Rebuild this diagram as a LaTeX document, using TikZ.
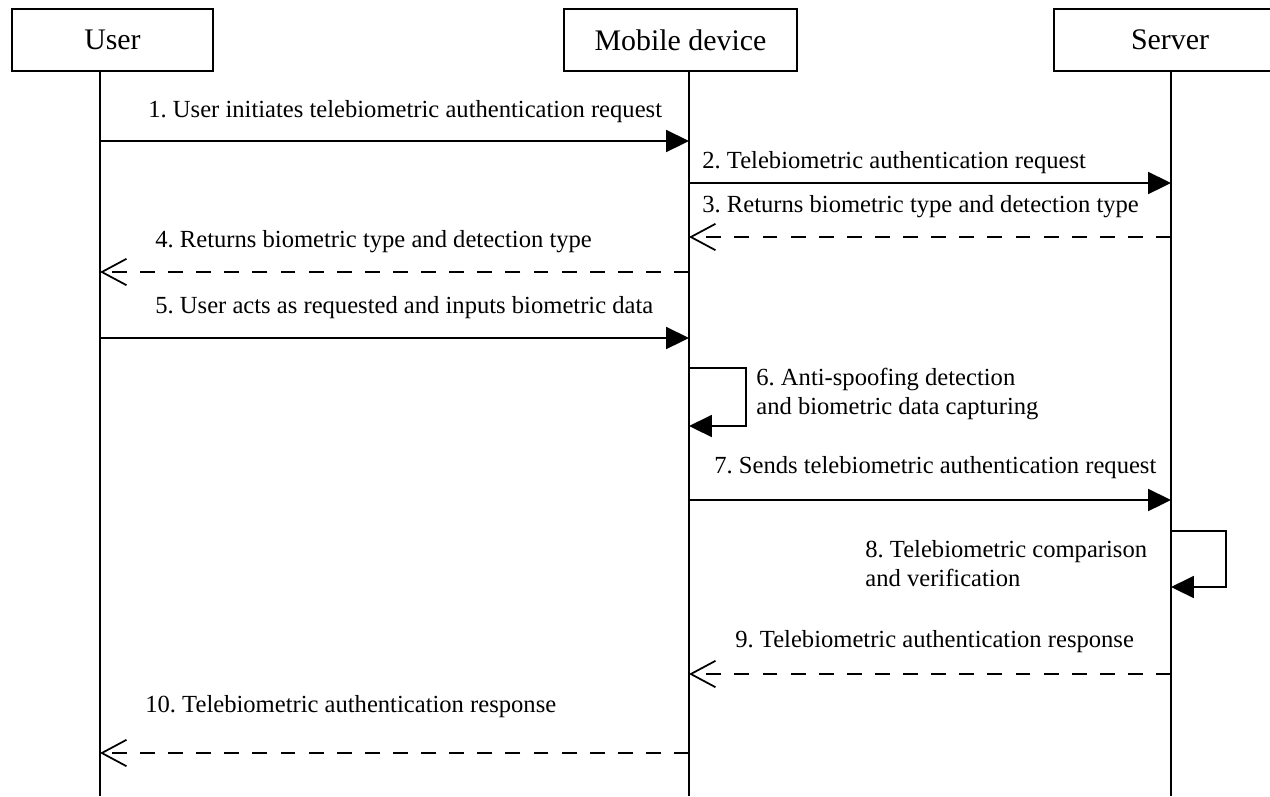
\documentclass[tikz,border=0pt]{standalone}
\usepackage{fontspec}
\setmainfont{Liberation Serif}
\usetikzlibrary{calc}
\usetikzlibrary{arrows.meta}
\frenchspacing

\begin{document}
\begin{tikzpicture}[x=0.02cm, y=-0.02cm,
  actor/.style={draw, line width=1pt, minimum height=1.24cm, inner sep=0pt, font=\fontsize{17}{20}\selectfont},
  life/.style={line width=1pt},
  msg/.style={line width=1pt, -{Triangle[length=13pt, width=12.5pt]}},
  reply/.style={line width=1pt, dash pattern=on 8.5pt off 7.5pt, -{Straight Barb[length=14pt, width=15pt, line width=1pt]}},
  lbl/.style={anchor=base west, inner sep=0pt, font=\fontsize{14}{16.5}\selectfont},
  lbl2/.style={anchor=north west, inner sep=0pt, align=left, font=\fontsize{14}{16.5}\selectfont}]
\useasboundingbox (0,0) rectangle (1270,796);

\node[actor, minimum width=4.02cm] (User) at (112.5,40) {User};
\node[actor, minimum width=4.66cm] (Mobile) at (680.5,40) {Mobile device};
\node[actor, minimum width=4.64cm] (Server) at (1170,40) {Server};

\coordinate (U0) at (100,71);
\coordinate (M0) at (689,71);
\coordinate (S0) at (1171,71);
\draw[life] (U0) -- (U0 |- 0,796);
\draw[life] (M0) -- (M0 |- 0,796);
\draw[life] (S0) -- (S0 |- 0,796);

\coordinate (U1) at (100,141);
\coordinate (M1) at (689,141);
\draw[msg] (U1) -- (M1);
\node[lbl] (L1) at (148,117) {1. User initiates telebiometric authentication request};

\coordinate (M2) at (689,183);
\coordinate (S2) at (1171,183);
\draw[msg] (M2) -- (S2);
\node[lbl] (L2) at (702,168) {2. Telebiometric authentication request};

\coordinate (S3) at (1171,237);
\coordinate (M3) at (689,237);
\draw[reply] (S3) -- (M3);
\node[lbl] (L3) at (702,212) {3. Returns biometric type and detection type};

\coordinate (M4) at (689,272);
\coordinate (U4) at (100,272);
\draw[reply] (M4) -- (U4);
\node[lbl] (L4) at (155,247) {4. Returns biometric type and detection type};

\coordinate (U5) at (100,338);
\coordinate (M5) at (689,338);
\draw[msg] (U5) -- (M5);
\node[lbl] (L5) at (155,313) {5. User acts as requested and inputs biometric data};

\coordinate (M6a) at (689,368);
\coordinate (M6b) at (689,426);
\draw[msg] (M6a) -- ++(57,0) |- (M6b);
\node[lbl2] (L6) at (756,368) {6. Anti-spoofing detection\\and biometric data capturing};

\coordinate (M7) at (689,500);
\coordinate (S7) at (1171,500);
\draw[msg] (M7) -- (S7);
\node[lbl] (L7) at (714,473) {7. Sends telebiometric authentication request};

\coordinate (S8a) at (1171,531);
\coordinate (S8b) at (1171,587);
\draw[msg] (S8a) -- ++(55,0) |- (S8b);
\node[lbl2] (L8) at (865,540) {8. Telebiometric comparison\\and verification};

\coordinate (S9) at (1171,674);
\coordinate (M9) at (689,674);
\draw[reply] (S9) -- (M9);
\node[lbl] (L9) at (735,647) {9. Telebiometric authentication response};

\coordinate (M10) at (689,753);
\coordinate (U10) at (100,753);
\draw[reply] (M10) -- (U10);
\node[lbl] (L10) at (145,712) {10. Telebiometric authentication response};

\end{tikzpicture}
\end{document}
